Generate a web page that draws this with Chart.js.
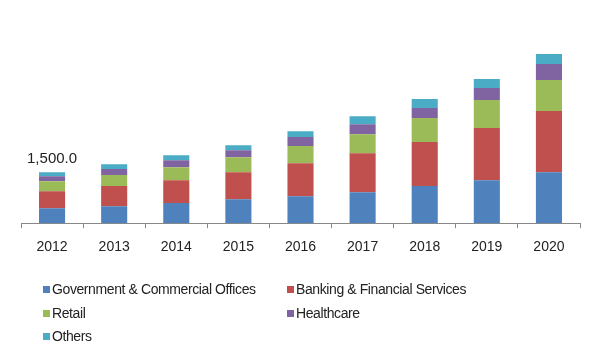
<!DOCTYPE html>
<html>
<head>
<meta charset="utf-8">
<script src="https://cdn.jsdelivr.net/npm/chart.js@4.4.1/dist/chart.umd.min.js"></script>
<style>
  html, body { margin: 0; padding: 0; background: #fff; }
  #wrap { position: relative; width: 600px; height: 362px; }
  #legend { position: absolute; left: 43px; top: 281px; width: 540px;
            font-family: "Liberation Sans", Arial, sans-serif; font-size: 14px; letter-spacing: -0.4px; color: #222; }
  .item { position: absolute; white-space: nowrap; }
  .item span.box { display: inline-block; width: 7px; height: 7px; margin-right: 2px; vertical-align: 1px; }
</style>
</head>
<body>
<div id="wrap">
  <canvas id="chart" width="600" height="362"></canvas>
  <div id="legend"></div>
</div>
<script>
// Kategori tahun
const years = ['2012', '2013', '2014', '2015', '2016', '2017', '2018', '2019', '2020'];

// Nilai tiap segmen (perkiraan dari gambar)
const government = [440, 500, 590, 705, 795, 910, 1090, 1265, 1500];
const banking = [500, 590, 675, 795, 970, 1145, 1295, 1530, 1795];
const retail = [295, 325, 380, 440, 500, 560, 705, 825, 910];
const healthcare = [145, 175, 205, 205, 265, 295, 295, 355, 470];
const others = [120, 145, 145, 145, 175, 235, 265, 265, 295];

const seriesNames = ['Government & Commercial Offices', 'Banking & Financial Services', 'Retail', 'Healthcare', 'Others'];
const seriesColors = ['#4F81BD', '#C0504D', '#9BBB59', '#8064A2', '#4BACC6'];

// Label di atas batang pertama
const labelIndex = 0;
const labelText = '1,500.0';

const allSeries = [government, banking, retail, healthcare, others];

const topLabel = {
    id: 'topLabel',
    afterDatasetsDraw(chart) {
        const ctx = chart.ctx;
        const total = allSeries.reduce((s, arr) => s + arr[labelIndex], 0);
        const x = chart.scales.x.getPixelForValue(labelIndex);
        const y = chart.scales.y.getPixelForValue(total);
        ctx.save();
        ctx.font = '15px "Liberation Sans", Arial, sans-serif';
        ctx.fillStyle = '#222';
        ctx.textAlign = 'center';
        ctx.textBaseline = 'bottom';
        ctx.fillText(labelText, x, y - 6);
        ctx.restore();
    }
};

const chart = new Chart(document.getElementById('chart'), {
    type: 'bar',
    data: {
        labels: years,
        datasets: allSeries.map((arr, i) => ({
            label: seriesNames[i],
            data: arr,
            backgroundColor: seriesColors[i],
            borderWidth: 0,
            categoryPercentage: 1,
            barPercentage: 0.42
        }))
    },
    options: {
        responsive: false,
        animation: false,
        layout: { padding: { left: 21, right: 20, top: 19, bottom: 95 } },
        plugins: {
            legend: { display: false },
            tooltip: { enabled: false }
        },
        scales: {
            x: {
                stacked: true,
                border: { display: true, color: '#888', width: 1 },
                grid: { display: true, drawOnChartArea: false, drawTicks: true, tickLength: 5, color: '#888', offset: true },
                ticks: { color: '#222', padding: 11, font: { family: '"Liberation Sans", Arial, sans-serif', size: 14 } }
            },
            y: {
                stacked: true,
                display: false,
                min: 0,
                max: 6000
            }
        }
    },
    plugins: [topLabel]
});

// Legenda HTML dua kolom
const legend = document.getElementById('legend');
seriesNames.forEach((name, i) => {
    const div = document.createElement('div');
    div.className = 'item';
    div.style.left = (i % 2 === 0 ? 0 : 244) + 'px';
    div.style.top = (Math.floor(i / 2) * 23.5) + 'px';
    div.innerHTML = '<span class="box" style="background:' + seriesColors[i] + '"></span>' + name;
    legend.appendChild(div);
});
</script>
</body>
</html>
